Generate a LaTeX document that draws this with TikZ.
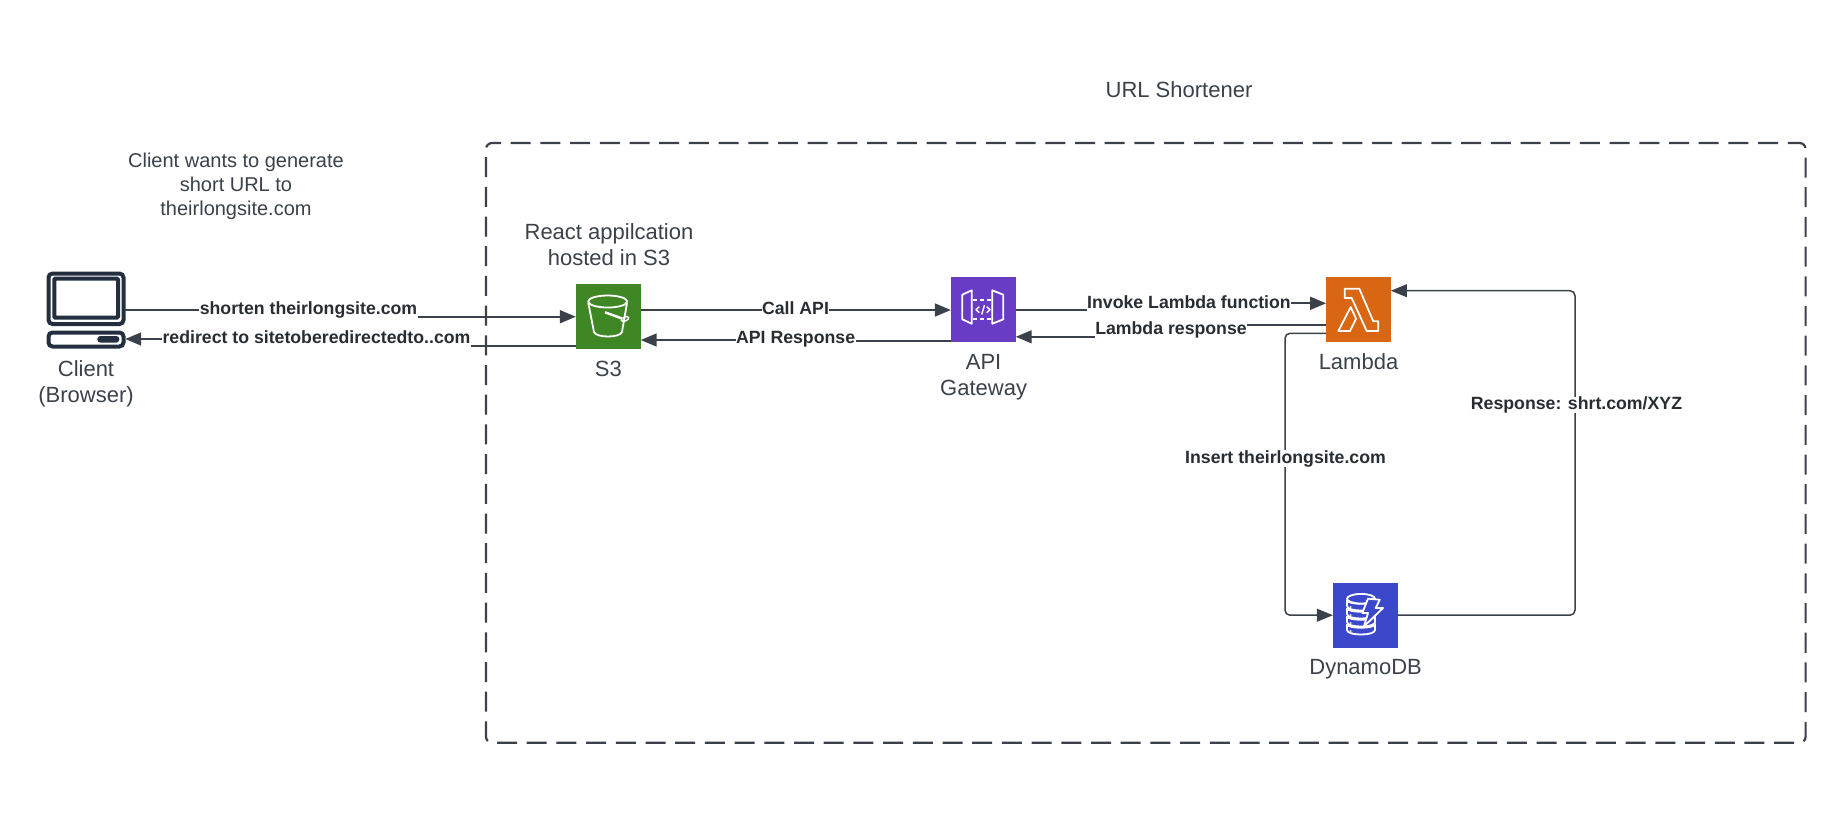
\documentclass[tikz,border=0pt]{standalone}
\usepackage{fontspec}
\setmainfont{Liberation Sans}
\usetikzlibrary{arrows.meta}
\definecolor{inkline}{HTML}{3A414A}
\definecolor{inktext}{HTML}{282C33}
\definecolor{inkclient}{HTML}{232F3E}
\definecolor{s3green}{HTML}{3F8624}
\definecolor{apipurple}{HTML}{693CC5}
\definecolor{lambdaorange}{HTML}{D86613}
\definecolor{dynamoblue}{HTML}{3B48CC}
\tikzset{
  awsbox/.style={minimum size=32.4pt,inner sep=0pt,outer sep=0pt},
  caption/.style={font=\fontsize{11}{13.2}\selectfont,text=inkline,align=center,inner sep=0pt},
  edgelabel/.style={font=\bfseries\fontsize{8.85}{10}\selectfont,text=inktext,inner sep=0pt},
  conn/.style={draw=inkline,line width=1.1pt},
  thinconn/.style={draw=inkline,line width=0.75pt,rounded corners=2.5pt},
  tip/.style={-{Triangle[length=8pt,width=6.4pt]}},
  iconline/.style={draw=white,line width=0.9pt,line join=round},
  pcline/.style={draw=inkclient,line width=2pt,rounded corners=2pt},
}
\begin{document}
\begin{tikzpicture}[x=0.5pt,y=-0.5pt]
    \useasboundingbox (0,0) rectangle (1842,821);

    % Frame
    \draw[inkline,line width=1.1pt,rounded corners=3pt,dash pattern=on 10pt off 4.85pt,dash phase=5.5pt] (486,143) -- (1805.6,143) -- (1805.6,742.7) -- (486,742.7) -- cycle;
    \node[caption] (title) at (1179,90) {URL Shortener};
    \node[caption,font=\fontsize{10}{12}\selectfont] (clientnote) at (236,186) {Client wants to generate\\short URL to\\theirlongsite.com};
    \node[caption] (s3note) at (609,244.5) {React appilcation\\hosted in S3};

    % Services
    \foreach \nm/\x/\y/\col in {
        s3/608.3/316.5/s3green,
        api/983.3/309.5/apipurple,
        lambda/1358.5/309.5/lambdaorange,
        dynamo/1365.3/615.2/dynamoblue} {
        \node[awsbox,fill=\col] (\nm) at (\x,\y) {};
    }
    \node[inner sep=0pt,outer sep=0pt,minimum width=39.2pt,minimum height=38pt] (client) at (86,310) {};

    \node[caption] (clientname) at (86,384) {Client\\(Browser)};
    \node[caption] (s3name) at (608.3,369) {S3};
    \node[caption] (apiname) at (983.6,377) {API\\Gateway};
    \node[caption] (lambdaname) at (1358.5,361.5) {Lambda};
    \node[caption] (dynamoname) at (1365.6,669) {DynamoDB};

    % Client icon
    \draw[pcline] (48.5,273.5) rectangle (123.5,324);
    \draw[pcline,rounded corners=0.5pt] (54.3,278.7) rectangle (118,317.5);
    \draw[pcline] (48.5,332.5) rectangle (123.5,346.5);
    \fill[inkclient,rounded corners=1.5pt] (97.3,336) rectangle (119.3,342.5);

    % S3 icon
    \draw[iconline] (607.7,301.5) ellipse [x radius=19.5,y radius=6];
    \draw[iconline] (588.3,303) -- (594,332) .. controls (596,338) and (620,338) .. (622,332) -- (627,303);
    \draw[iconline,line width=1.2pt] (605,312.3) -- (622,318.5);
    \draw[iconline,rotate around={22:(625,319)},line width=0.7pt] (625,319) ellipse [x radius=4,y radius=2];

    % API icon
    \draw[iconline] (962.3,294.7) -- (971.7,290.3) -- (971.7,323.7) -- (962.3,319.3) -- cycle;
    \draw[iconline] (992.3,290.3) -- (1003.3,294.7) -- (1003.3,319.3) -- (992.3,323.7) -- cycle;
    \draw[iconline,dash pattern=on 2pt off 1.4pt] (973,300) -- (992,300);
    \draw[iconline,dash pattern=on 2pt off 1.4pt] (973,319) -- (992,319);
    \draw[iconline,line width=0.7pt] (979.3,306.7) -- (976,309.7) -- (979.3,312.7);
    \draw[iconline,line width=0.7pt] (984.5,305) -- (981.7,314.5);
    \draw[iconline,line width=0.7pt] (986.7,306.7) -- (990,309.7) -- (986.7,312.7);

    % Lambda icon
    \draw[iconline] (1344.7,288.7) -- (1359.3,288.7) -- (1373.3,321.3) -- (1378.3,321.3) -- (1378.3,331) -- (1366.7,331) -- (1351.7,298) -- (1344.7,298) -- cycle;
    \draw[iconline] (1350.7,307) -- (1356,318.7) -- (1350,331) -- (1338.3,331) -- cycle;

    % Dynamo icon
    \foreach \yy in {624,616,608,600} {
        \draw[iconline,fill=dynamoblue] (1347,\yy) -- (1347,\yy+6) .. controls (1347,\yy+12) and (1375,\yy+12) .. (1375,\yy+6) -- (1375,\yy) .. controls (1375,\yy+5) and (1347,\yy+5) .. (1347,\yy);
        \fill[white] (1350.5,\yy+7) circle [radius=1];
    }
    \draw[iconline,fill=dynamoblue] (1361,598.7) ellipse [x radius=14,y radius=4.8];
    \draw[iconline,fill=dynamoblue] (1368,598.7) -- (1379.7,599.7) -- (1375.7,608) -- (1383,608) -- (1364,626.3) -- (1368,613) -- (1362.3,613) -- cycle;

    % Labels
    \node[edgelabel] (shorten) at (308.5,309.5) {shorten theirlongsite.com};
    \node[edgelabel] (redirect) at (316.5,337.4) {redirect to sitetoberedirectedto..com};
    \node[edgelabel] (callapi) at (795.5,307.8) {Call API};
    \node[edgelabel] (apiresp) at (795.6,339.3) {API Response};
    \node[edgelabel] (invoke) at (1189,301.7) {Invoke Lambda function};
    \node[edgelabel] (lambdaresp) at (1171,330) {Lambda response};

    % Connectors
    \draw[conn] (client.east |- 0,310) -- (shorten.west |- 0,310);
    \draw[conn,tip] (shorten.east |- 0,316.7) -- (s3.west |- 0,316.7);
    \draw[conn] (s3.west |- 0,346) -- (redirect.east |- 0,346);
    \draw[conn,tip] (redirect.west |- 0,339) -- (client.east |- 0,339);
    \draw[conn] (s3.east |- 0,310) -- (callapi.west |- 0,310);
    \draw[conn,tip] (callapi.east |- 0,310) -- (api.west |- 0,310);
    \draw[conn] (api.west |- 0,341) -- (apiresp.east |- 0,341);
    \draw[conn,tip] (apiresp.west |- 0,340) -- (s3.east |- 0,340);
    \draw[conn] (api.east |- 0,310) -- (invoke.west |- 0,310);
    \draw[conn,tip] (invoke.east |- 0,303.3) -- (lambda.west |- 0,303.3);
    \draw[conn] (lambda.west |- 0,325) -- (lambdaresp.east |- 0,325);
    \draw[conn,tip] (lambdaresp.west |- 0,336.8) -- (api.east |- 0,336.8);

    % Loop to Dynamo
    \coordinate (leftturn) at (1285,0);
    \coordinate (rightturn) at (1575,0);
    \draw[thinconn,tip] (lambda.west |- 0,333.3) -| (leftturn |- dynamo.west) -- (dynamo.west);
    \draw[thinconn,tip] (dynamo.east) -| (rightturn |- 0,290.7) -- (lambda.east |- 0,290.7);
    \node[edgelabel,fill=white] (insert) at (1285.5,458.5) {Insert theirlongsite.com};
    \node[edgelabel,fill=white] (resp) at (1576.5,405) {Response: shrt.com/XYZ};
\end{tikzpicture}
\end{document}
